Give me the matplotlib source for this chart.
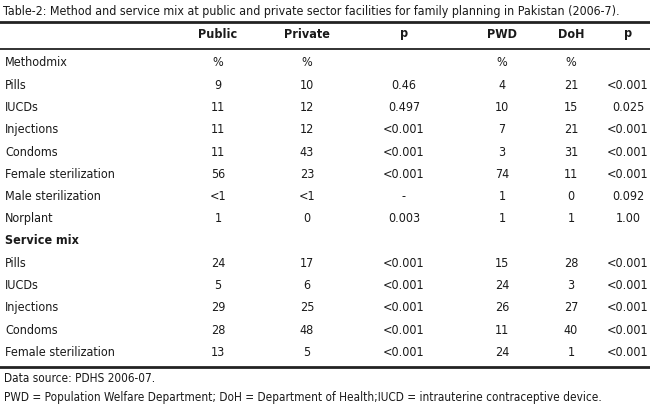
import matplotlib
matplotlib.use("Agg")
import matplotlib.pyplot as plt
from matplotlib import font_manager as fm

W, H = 650, 407
names = {f.name for f in fm.fontManager.ttflist}
if "Liberation Sans Narrow" in names:
    FAM = ["Liberation Sans Narrow", "DejaVu Sans"]
    STRETCH = "normal"
else:
    FAM = ["DejaVu Sans"]
    STRETCH = "condensed"

title = "Table-2: Method and service mix at public and private sector facilities for family planning in Pakistan (2006-7)."
headers = ["Public", "Private", "p", "PWD", "DoH", "p"]
row_labels = ["Methodmix", "Pills", "IUCDs", "Injections", "Condoms", "Female sterilization",
              "Male sterilization", "Norplant", "Service mix", "Pills", "IUCDs", "Injections",
              "Condoms", "Female sterilization"]
public = ["%", "9", "11", "11", "11", "56", "<1", "1", "", "24", "5", "29", "28", "13"]
private = ["%", "10", "12", "12", "43", "23", "<1", "0", "", "17", "6", "25", "48", "5"]
p_pub_priv = ["", "0.46", "0.497", "<0.001", "<0.001", "<0.001", "-", "0.003", "",
              "<0.001", "<0.001", "<0.001", "<0.001", "<0.001"]
pwd = ["%", "4", "10", "7", "3", "74", "1", "1", "", "15", "24", "26", "11", "24"]
doh = ["%", "21", "15", "21", "31", "11", "0", "1", "", "28", "3", "27", "40", "1"]
p_pwd_doh = ["", "<0.001", "0.025", "<0.001", "<0.001", "<0.001", "0.092", "1.00", "",
             "<0.001", "<0.001", "<0.001", "<0.001", "<0.001"]
bold_rows = ["Service mix"]
footnotes = ["Data source: PDHS 2006-07.",
             "PWD = Population Welfare Department; DoH = Department of Health;IUCD = intrauterine contraceptive device."]

fig = plt.figure(figsize=(W / 100, H / 100), dpi=100)
fig.patch.set_facecolor("white")

def fx(x):
    return x / W

def fy(y):
    return 1 - y / H

def txt(x, y, s, ha="left", weight="normal", size=9):
    fig.text(fx(x), fy(y), s, ha=ha, va="center", fontsize=size, family=FAM,
             fontstretch=STRETCH, fontweight=weight, color="#1a1a1a")

txt(3, 11, title, size=8.9)

col_x = [218, 307, 404, 502, 571, 628]
for cx, h in zip(col_x, headers):
    txt(cx, 34, h, ha="center", weight="bold")

row_y0, row_dy = 63, 22.25
columns = [public, private, p_pub_priv, pwd, doh, p_pwd_doh]
for i, lab in enumerate(row_labels):
    y = row_y0 + i * row_dy
    txt(5, y, lab, weight="bold" if lab in bold_rows else "normal")
    for cx, col in zip(col_x, columns):
        if col[i]:
            txt(cx, y, col[i], ha="center")

for y, lw in [(22, 2.0), (49, 1.3), (367, 2.0)]:
    fig.add_artist(plt.Line2D([0, 1], [fy(y), fy(y)], color="#222222", lw=lw,
                              transform=fig.transFigure))

txt(4, 379, footnotes[0], size=8.5)
txt(4, 397, footnotes[1], size=8.5)

fig.savefig("out.png", dpi=100, facecolor="white")
